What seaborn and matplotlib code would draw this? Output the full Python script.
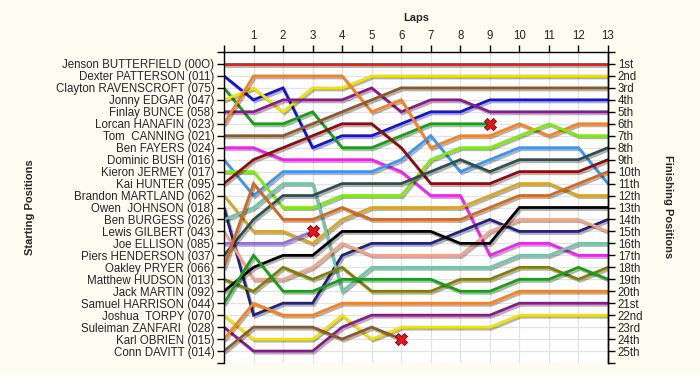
import matplotlib
matplotlib.use('Agg')
import matplotlib.pyplot as plt
import matplotlib.patheffects as pe
import seaborn as sns
import pandas as pd

# starting grid order
drivers = ['Jenson BUTTERFIELD (00O)', 'Dexter PATTERSON (011)', 'Clayton RAVENSCROFT (075)',
           'Jonny EDGAR (047)', 'Finlay BUNCE (058)', 'Lorcan HANAFIN (023)', 'Tom  CANNING (021)',
           'Ben FAYERS (024)', 'Dominic BUSH (016)', 'Kieron JERMEY (017)', 'Kai HUNTER (095)',
           'Brandon MARTLAND (062)', 'Owen  JOHNSON (018)', 'Ben BURGESS (026)', 'Lewis GILBERT (043)',
           'Joe ELLISON (085)', 'Piers HENDERSON (037)', 'Oakley PRYER (066)', 'Matthew HUDSON (013)',
           'Jack MARTIN (092)', 'Samuel HARRISON (044)', 'Joshua  TORPY (070)', 'Suleiman ZANFARI  (028)',
           'Karl OBRIEN (015)', 'Conn DAVITT (014)']

colours = ['#E31C1C', '#1414D2', '#15A015', '#F2E200', '#8A1A8A', '#F7821E', '#8B5A2B',
           '#F022F0', '#3A96F0', '#7EEB0A', '#8B0E0E', '#DAA520', '#22227A', '#6CC8A8',
           '#F5A384', '#9370DB', '#2F4F4F', '#D2691E', '#808000', '#000000',
           '#15A015', '#F2E200', '#8A1A8A', '#F7821E', '#8B5A2B']

# position at lap 0..13 (list stops when driver retired)
positions = [
    [1, 1, 1, 1, 1, 1, 1, 1, 1, 1, 1, 1, 1, 1],
    [2, 4, 3, 8, 7, 7, 6, 5, 5, 4, 4, 4, 4, 4],
    [3, 6, 6, 5, 8, 8, 7, 6, 6, 6],
    [4, 3, 5, 3, 3, 2, 2, 2, 2, 2, 2, 2, 2, 2],
    [5, 5, 4, 4, 4, 3, 5, 4, 4, 5, 5, 5, 5, 5],
    [6, 2, 2, 2, 2, 5, 4, 8, 7, 7, 6, 7, 6, 6],
    [7, 7, 7, 6, 5, 4, 3, 3, 3, 3, 3, 3, 3, 3],
    [8, 8, 9, 9, 9, 9, 10, 12, 12, 17, 16, 16, 17, 17],
    [9, 12, 10, 10, 10, 10, 9, 7, 10, 9, 8, 8, 8, 11],
    [10, 10, 13, 13, 12, 12, 12, 9, 8, 8, 7, 6, 7, 7],
    [11, 9, 8, 7, 6, 6, 8, 11, 11, 11, 10, 10, 10, 9],
    [12, 15, 15, 16, 14, 13, 13, 13, 13, 12, 11, 11, 12, 12],
    [13, 22, 21, 21, 17, 16, 16, 16, 15, 14, 15, 15, 15, 14],
    [14, 13, 11, 11, 20, 18, 18, 18, 18, 18, 17, 17, 16, 16],
    [15, 19, 19, 18, 16, 17, 17, 17, 17, 15, 14, 14, 14, 15],
    [16, 16, 16, 15],
    [17, 14, 12, 12, 11, 11, 11, 10, 9, 10, 9, 9, 9, 8],
    [18, 11, 14, 14, 13, 14, 14, 14, 14, 13, 12, 12, 11, 10],
    [19, 20, 18, 19, 18, 20, 20, 20, 19, 19, 18, 18, 19, 18],
    [20, 18, 17, 17, 15, 15, 15, 15, 16, 16, 13, 13, 13, 13],
    [21, 17, 20, 20, 19, 19, 19, 19, 20, 20, 19, 19, 18, 19],
    [22, 24, 24, 24, 22, 24, 23, 23, 23, 23, 22, 22, 22, 22],
    [23, 25, 25, 25, 23, 22, 22, 22, 22, 22, 21, 21, 21, 21],
    [24, 21, 22, 22, 21, 21, 21, 21, 21, 21, 20, 20, 20, 20],
    [25, 23, 23, 23, 24, 23, 24],
]

# retirements
out_lap = [3, 6, 9]
out_pos = [15, 24, 6]

laps = list(range(0, 14))
lap_labels = [''] + [str(i) for i in range(1, 14)]
ordinals = ['1st', '2nd', '3rd'] + ['%dth' % i for i in range(4, 21)] + ['21st', '22nd', '23rd', '24th', '25th']

rows = []
for d, pos in zip(drivers, positions):
    for lap, p in enumerate(pos):
        rows.append((d, lap, p))
df = pd.DataFrame(rows, columns=['driver', 'lap', 'pos'])

sns.set_style('white')
plt.rcParams['font.family'] = ['Liberation Sans', 'DejaVu Sans']

bg = '#FDFCF0'
fig = plt.figure(figsize=(7, 3.75), dpi=100, facecolor=bg)
ax = fig.add_axes([224/700, 1-363/375, 384/700, 311/375])
ax.set_facecolor('white')

sns.lineplot(data=df, x='lap', y='pos', hue='driver', hue_order=drivers,
             palette=dict(zip(drivers, colours)), linewidth=2.0, legend=False,
             estimator=None, sort=False, ax=ax)
for ln in ax.lines:
    ln.set_path_effects([pe.SimpleLineShadow(offset=(1.2, -1.5), shadow_color='black', alpha=0.3),
                         pe.Normal()])
    ln.set_solid_joinstyle('miter')

sns.scatterplot(x=out_lap, y=out_pos, marker='X', s=75, color='#E8141C',
                edgecolor='#7A0000', linewidth=0.6, zorder=5, ax=ax, legend=False)

ax.set_xlim(0, 13)
ax.set_ylim(26, 0)
ax.grid(True, color='#E3E3E3', linewidth=0.9)
ax.set_axisbelow(True)

ax.xaxis.tick_top()
ax.set_xticks(laps)
ax.set_xticklabels(lap_labels)
ax.set_yticks(range(0, 27))
ax.set_yticklabels([''] + drivers + [''])
ax.tick_params(axis='both', which='both', length=5, width=1, color='black',
               labelsize=8.3, pad=2, direction='out')
ax.set_xlabel('')
ax.set_ylabel('')
for s in ['left', 'right', 'top']:
    ax.spines[s].set_visible(True)
    ax.spines[s].set_color('black')
    ax.spines[s].set_linewidth(1)
ax.spines['bottom'].set_visible(False)

ax2 = ax.twinx()
ax2.set_ylim(26, 0)
ax2.set_yticks(range(0, 27))
ax2.set_yticklabels([''] + ordinals + [''])
ax2.tick_params(axis='y', length=5, width=1, color='black', labelsize=8.3, pad=2, direction='out')
for s in ['left', 'top', 'bottom']:
    ax2.spines[s].set_visible(False)
ax2.spines['right'].set_color('black')
ax2.spines['right'].set_linewidth(1)

fig.text(416/700, 1-18/375, 'Laps', ha='center', va='center', fontsize=8, fontweight='bold')
fig.text(30/700, 1-207/375, 'Starting Positions', ha='center', va='center',
         rotation=90, fontsize=8, fontweight='bold')
fig.text(668/700, 1-207/375, 'Finishing Positions', ha='center', va='center',
         rotation=270, fontsize=8, fontweight='bold')

fig.savefig('out.png', dpi=100, facecolor=bg)
